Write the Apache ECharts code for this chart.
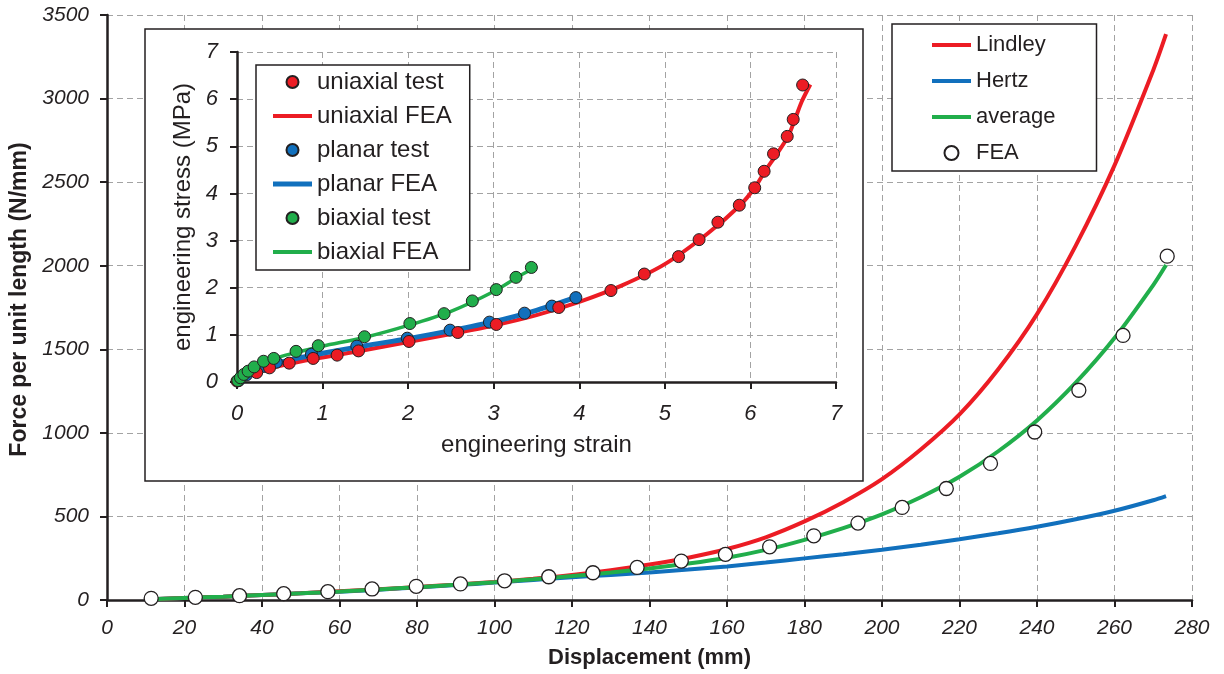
<!DOCTYPE html>
<html>
<head>
<meta charset="utf-8">
<title>Force per unit length vs displacement</title>
<script src="https://cdn.jsdelivr.net/npm/echarts@6/dist/echarts.min.js"></script>
<style>
  html, body { margin: 0; padding: 0; background: #fff; }
  #chart { width: 1224px; height: 674px; }
</style>
</head>
<body>
<div id="chart"></div>
<script>
// ---- Main chart: force per unit length vs displacement ----
const curveX  = [11.4, 20, 30, 40, 50, 60, 70, 80, 90, 100, 110, 120, 130, 140, 150, 160, 170, 180, 190, 200, 210, 220, 230, 240, 250, 260, 270, 273.3];
const lindley = [4, 12, 20, 30, 40, 52, 64, 78, 92, 108, 127, 150, 178, 212, 253, 305, 375, 470, 585, 723, 900, 1110, 1380, 1710, 2120, 2600, 3170, 3385];
const hertz   = [4, 12, 20, 30, 40, 50, 62, 75, 89, 104, 120, 136, 150, 165, 182, 201, 224, 249, 274, 301, 331, 364, 399, 438, 483, 534, 597, 622];
const average = [4, 12, 20, 30, 40, 51, 63, 77, 91, 106, 124, 143, 164, 189, 218, 253, 300, 360, 430, 512, 615, 737, 890, 1074, 1300, 1567, 1884, 2004];

const feaX = [11.4, 22.8, 34.2, 45.6, 57.0, 68.4, 79.8, 91.2, 102.6, 114.0, 125.4, 136.8, 148.2, 159.6, 171.0, 182.4, 193.8, 205.2, 216.6, 228.0, 239.4, 250.8, 262.2, 273.6];
const feaY = [10, 16, 26, 38, 50, 66, 82, 96, 115, 139, 163, 195, 233, 273, 318, 384, 460, 554, 667, 817, 1005, 1255, 1583, 2057];

// ---- Inset: engineering stress vs engineering strain ----
const uniTestStrain = [0.0, 0.23, 0.38, 0.61, 0.89, 1.17, 1.42, 2.01, 2.58, 3.03, 3.76, 4.37, 4.76, 5.16, 5.40, 5.62, 5.87, 6.05, 6.16, 6.27, 6.43, 6.50, 6.61];
const uniTestStress = [0.02, 0.20, 0.30, 0.40, 0.50, 0.57, 0.66, 0.86, 1.05, 1.22, 1.58, 1.94, 2.29, 2.66, 3.02, 3.39, 3.75, 4.12, 4.47, 4.84, 5.21, 5.57, 6.30];
const uniFeaStrain  = [0, 0.1, 0.2, 0.4, 0.7, 1.0, 1.5, 2.0, 2.5, 3.0, 3.5, 4.0, 4.5, 5.0, 5.5, 5.88, 6.05, 6.17, 6.31, 6.44, 6.52, 6.60, 6.70];
const uniFeaStress  = [0, 0.12, 0.20, 0.30, 0.42, 0.52, 0.68, 0.85, 1.02, 1.20, 1.42, 1.70, 2.05, 2.50, 3.15, 3.75, 4.12, 4.47, 4.84, 5.21, 5.57, 5.95, 6.31];

const plaTestStrain = [0.02, 0.11, 0.20, 0.32, 0.46, 0.87, 1.40, 1.99, 2.49, 2.95, 3.36, 3.68, 3.96];
const plaTestStress = [0.03, 0.15, 0.24, 0.33, 0.42, 0.59, 0.76, 0.93, 1.10, 1.27, 1.46, 1.61, 1.79];
const plaFeaStrain  = [0, 0.1, 0.2, 0.4, 0.7, 1.0, 1.5, 2.0, 2.5, 3.0, 3.5, 4.0];
const plaFeaStress  = [0, 0.14, 0.23, 0.37, 0.50, 0.61, 0.77, 0.92, 1.09, 1.28, 1.52, 1.82];

const biaTestStrain = [0.01, 0.04, 0.08, 0.13, 0.20, 0.31, 0.43, 0.69, 0.95, 1.49, 2.02, 2.42, 2.75, 3.03, 3.26, 3.44];
const biaTestStress = [0.03, 0.09, 0.16, 0.23, 0.32, 0.44, 0.50, 0.65, 0.77, 0.96, 1.24, 1.45, 1.72, 1.96, 2.22, 2.43];
const biaFeaStrain  = [0, 0.1, 0.2, 0.4, 0.7, 1.0, 1.5, 2.0, 2.5, 3.0, 3.3, 3.51];
const biaFeaStress  = [0, 0.20, 0.32, 0.48, 0.63, 0.76, 0.95, 1.20, 1.50, 1.92, 2.25, 2.45];

const zip = (xs, ys) => xs.map((x, i) => [x, ys[i]]);

const INK = '#231F20';
const GRID = '#A3A3A3';
const RED = '#EC1C24';
const BLUE = '#1170BD';
const GREEN = '#21AE4B';
const FONT = '"Liberation Sans", Arial, Helvetica, sans-serif';

// flat bar used as the legend swatch of a line series (thickness = line width)
const lineIcon = (w) => 'path://M0,0H39V' + w + 'H0Z';

function valueAxis(extra) {
  return Object.assign({
    type: 'value',
    axisLine: { show: true, onZero: false, lineStyle: { color: INK, width: 2.5 } },
    axisTick: { show: true, inside: false, length: 7, lineStyle: { color: INK, width: 2 } },
    splitLine: { show: true, lineStyle: { color: GRID, width: 1, type: [6, 4] } }
  }, extra);
}

const plain = (v) => String(v);

const chart = echarts.init(document.getElementById('chart'), null, { renderer: 'canvas' });

const option = {
  animation: false,
  backgroundColor: '#fff',
  textStyle: { fontFamily: FONT, color: INK },
  grid: [
    { left: 107, top: 15, width: 1085, height: 586 },
    { left: 237, top: 52, width: 599, height: 330, zlevel: 1 }
  ],
  xAxis: [
    valueAxis({
      gridIndex: 0, min: 0, max: 280, interval: 20,
      name: 'Displacement (mm)', nameLocation: 'middle', nameGap: 47,
      nameTextStyle: { fontSize: 22, fontWeight: 'bold', color: INK, fontFamily: FONT },
      axisLabel: { color: INK, fontStyle: 'italic', fontSize: 21, fontFamily: FONT, margin: 18, formatter: plain }
    }),
    valueAxis({
      gridIndex: 1, min: 0, max: 7, interval: 1, zlevel: 1, z: 2,
      name: 'engineering strain', nameLocation: 'middle', nameGap: 51,
      nameTextStyle: { fontSize: 24, color: INK, fontFamily: FONT },
      axisLabel: { color: INK, fontStyle: 'italic', fontSize: 22, fontFamily: FONT, margin: 21, formatter: plain }
    })
  ],
  yAxis: [
    valueAxis({
      gridIndex: 0, min: 0, max: 3500, interval: 500,
      name: 'Force per unit length (N/mm)', nameLocation: 'middle', nameGap: 69,
      nameTextStyle: { fontSize: 23, fontWeight: 'bold', color: INK, fontFamily: FONT, padding: [0, 0, 0, 16] },
      axisLabel: { color: INK, fontStyle: 'italic', fontSize: 21, fontFamily: FONT, margin: 18, formatter: plain }
    }),
    valueAxis({
      gridIndex: 1, min: 0, max: 7, interval: 1, zlevel: 1, z: 2,
      name: 'engineering stress (MPa)', nameLocation: 'middle', nameGap: 42,
      nameTextStyle: { fontSize: 24, color: INK, fontFamily: FONT },
      axisLabel: { color: INK, fontStyle: 'italic', fontSize: 22, fontFamily: FONT, margin: 19, formatter: plain }
    })
  ],
  graphic: {
    elements: [{
      type: 'rect', zlevel: 1, z: 0, silent: true,
      shape: { x: 145, y: 29, width: 718, height: 452 },
      style: { fill: '#fff', stroke: INK, lineWidth: 1.5 }
    }]
  },
  legend: [
    {
      orient: 'vertical', left: 892, top: 24,
      data: [
        { name: 'Lindley', icon: lineIcon(4) },
        { name: 'Hertz', icon: lineIcon(4) },
        { name: 'average', icon: lineIcon(4) },
        { name: 'FEA' }
      ],
      itemWidth: 39, itemHeight: 14, itemGap: 14,
      padding: [10, 41, 7, 40],
      backgroundColor: '#fff', borderColor: INK, borderWidth: 1.5, borderRadius: 0,
      textStyle: { fontSize: 22, lineHeight: 22, color: INK, fontFamily: FONT },
      z: 10
    },
    {
      orient: 'vertical', left: 256, top: 65, zlevel: 1, z: 10,
      data: [
        { name: 'uniaxial test' },
        { name: 'uniaxial FEA', icon: lineIcon(4) },
        { name: 'planar test' },
        { name: 'planar FEA', icon: lineIcon(5) },
        { name: 'biaxial test' },
        { name: 'biaxial FEA', icon: lineIcon(4) }
      ],
      itemWidth: 39, itemHeight: 12, itemGap: 10,
      padding: [5, 18, 6, 17],
      backgroundColor: '#fff', borderColor: INK, borderWidth: 1.5, borderRadius: 0,
      textStyle: { fontSize: 24, lineHeight: 24, color: INK, fontFamily: FONT }
    }
  ],
  series: [
    // main chart curves
    { name: 'Hertz', type: 'line', xAxisIndex: 0, yAxisIndex: 0, data: zip(curveX, hertz),
      symbol: 'none', smooth: 0.3, lineStyle: { color: BLUE, width: 4 }, itemStyle: { color: BLUE }, z: 2 },
    { name: 'Lindley', type: 'line', xAxisIndex: 0, yAxisIndex: 0, data: zip(curveX, lindley),
      symbol: 'none', smooth: 0.3, lineStyle: { color: RED, width: 4 }, itemStyle: { color: RED }, z: 3 },
    { name: 'average', type: 'line', xAxisIndex: 0, yAxisIndex: 0, data: zip(curveX, average),
      symbol: 'none', smooth: 0.3, lineStyle: { color: GREEN, width: 4 }, itemStyle: { color: GREEN }, z: 4 },
    { name: 'FEA', type: 'scatter', xAxisIndex: 0, yAxisIndex: 0, data: zip(feaX, feaY),
      symbol: 'circle', symbolSize: 14,
      itemStyle: { color: '#fff', borderColor: INK, borderWidth: 1.3, opacity: 1 }, z: 5 },

    // inset curves
    { name: 'uniaxial FEA', type: 'line', xAxisIndex: 1, yAxisIndex: 1, zlevel: 1, z: 3,
      data: zip(uniFeaStrain, uniFeaStress), symbol: 'none', smooth: 0.3,
      lineStyle: { color: RED, width: 4 }, itemStyle: { color: RED } },
    { name: 'planar FEA', type: 'line', xAxisIndex: 1, yAxisIndex: 1, zlevel: 1, z: 3,
      data: zip(plaFeaStrain, plaFeaStress), symbol: 'none', smooth: 0.3,
      lineStyle: { color: BLUE, width: 5 }, itemStyle: { color: BLUE } },
    { name: 'biaxial FEA', type: 'line', xAxisIndex: 1, yAxisIndex: 1, zlevel: 1, z: 3,
      data: zip(biaFeaStrain, biaFeaStress), symbol: 'none', smooth: 0.3,
      lineStyle: { color: GREEN, width: 3.5 }, itemStyle: { color: GREEN } },
    { name: 'planar test', type: 'scatter', xAxisIndex: 1, yAxisIndex: 1, zlevel: 1, z: 4,
      data: zip(plaTestStrain, plaTestStress), symbol: 'circle', symbolSize: 12,
      itemStyle: { color: BLUE, borderColor: INK, borderWidth: 1, opacity: 1 } },
    { name: 'uniaxial test', type: 'scatter', xAxisIndex: 1, yAxisIndex: 1, zlevel: 1, z: 5,
      data: zip(uniTestStrain, uniTestStress), symbol: 'circle', symbolSize: 12,
      itemStyle: { color: RED, borderColor: INK, borderWidth: 1, opacity: 1 } },
    { name: 'biaxial test', type: 'scatter', xAxisIndex: 1, yAxisIndex: 1, zlevel: 1, z: 6,
      data: zip(biaTestStrain, biaTestStress), symbol: 'circle', symbolSize: 12,
      itemStyle: { color: GREEN, borderColor: INK, borderWidth: 1, opacity: 1 } }
  ]
};

chart.setOption(option);
</script>
</body>
</html>
